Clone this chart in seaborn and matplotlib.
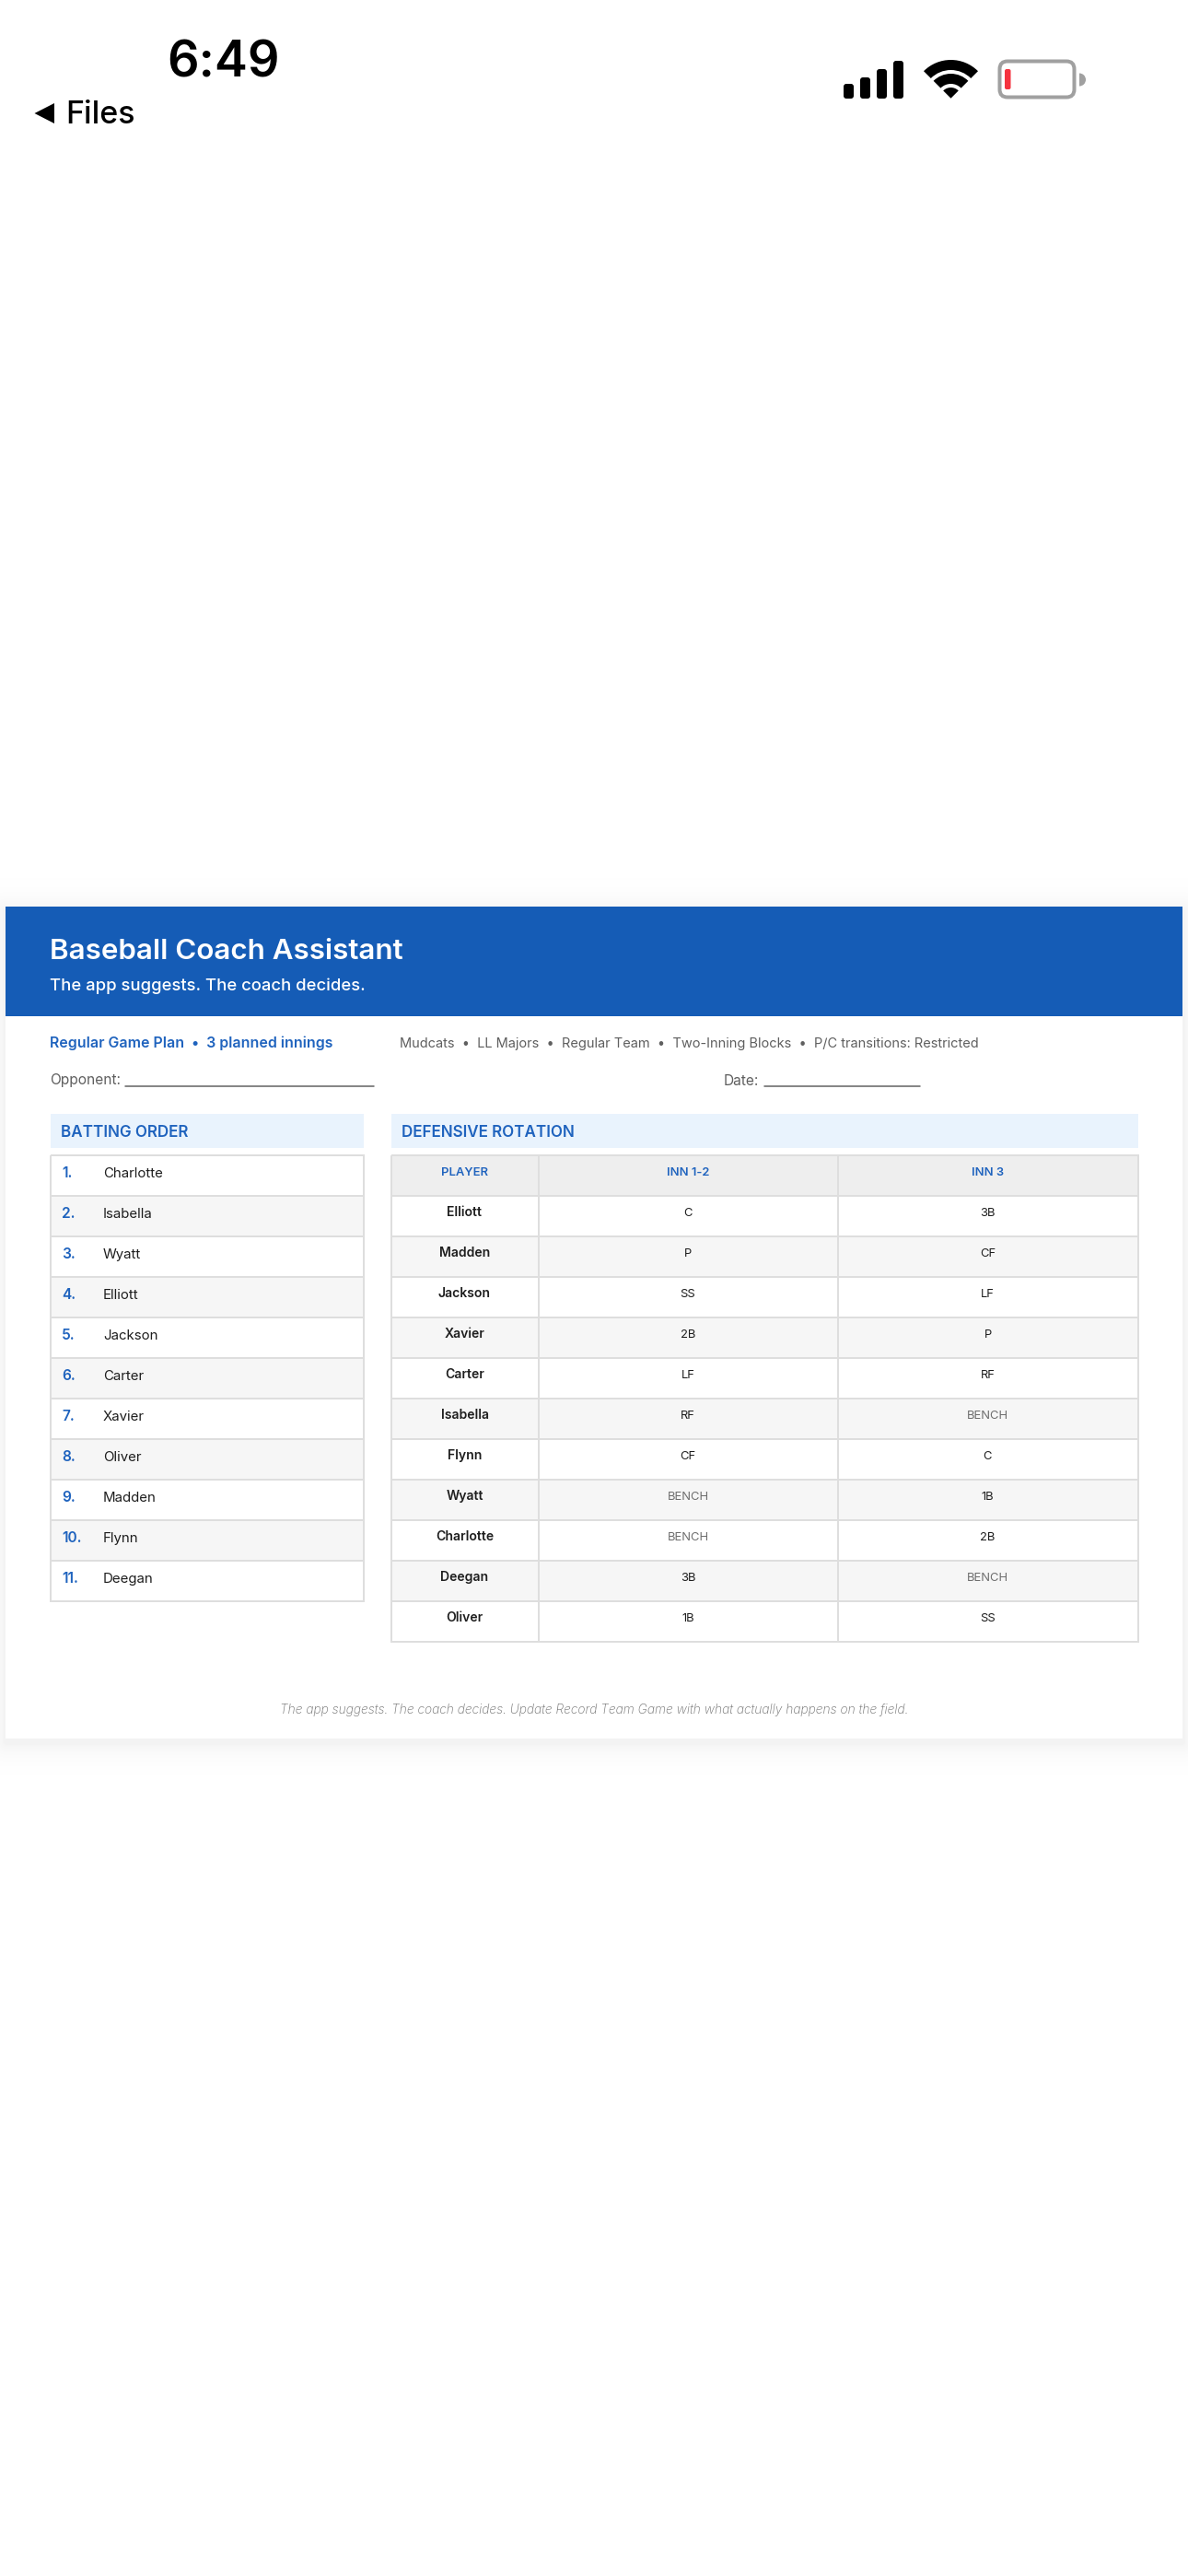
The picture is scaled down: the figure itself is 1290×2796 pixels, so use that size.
# plot.py
# printed lineup card as seen in a phone screenshot

import numpy as np
import pandas as pd
import seaborn as sns
import matplotlib
import matplotlib.pyplot as plt
from matplotlib.colors import ListedColormap
from matplotlib.patches import FancyBboxPatch, Polygon, Rectangle, Wedge
matplotlib.use('Agg')

DPI = 100
W, H = 1290, 2796

TITLE = "Baseball Coach Assistant"
SUBTITLE = "The app suggests. The coach decides."
PLAN_TEXT = "Regular Game Plan  \u2022  3 planned innings"
META_TEXT = "Mudcats  \u2022  LL Majors  \u2022  Regular Team  \u2022  Two-Inning Blocks  \u2022  P/C transitions: Restricted"
FOOTER = "The app suggests. The coach decides. Update Record Team Game with what actually happens on the field."

BATTING_ORDER = ["Charlotte", "Isabella", "Wyatt", "Elliott", "Jackson", "Carter",
                 "Xavier", "Oliver", "Madden", "Flynn", "Deegan"]

COLUMNS = ["PLAYER", "INN 1-2", "INN 3"]
PLAYERS = ["Elliott", "Madden", "Jackson", "Xavier", "Carter", "Isabella",
           "Flynn", "Wyatt", "Charlotte", "Deegan", "Oliver"]
INN_12 = ["C", "P", "SS", "2B", "LF", "RF", "CF", "BENCH", "BENCH", "3B", "1B"]
INN_3 = ["3B", "CF", "LF", "P", "RF", "BENCH", "C", "1B", "2B", "BENCH", "SS"]

BLUE = "#155CB6"
LINK = "#1F63BE"
BAND = "#E9F3FD"
LINE = "#DEDEDE"
INK = "#1E1E1E"
GREY = "#5F5F5F"
stripes = ListedColormap(["#FFFFFF", "#F6F6F6", "#EEEEEE"])

sns.set_theme(style="white")
plt.rcParams['font.family'] = ['Inter', 'DejaVu Sans']


def px(n):
    return n * 72 / DPI


fig = plt.figure(figsize=(W / DPI, H / DPI), dpi=DPI, facecolor="white")
root = fig.add_axes([0, 0, 1, 1])
root.set_xlim(0, W)
root.set_ylim(H, 0)
root.axis("off")


def label(x, y, s, size, color=INK, weight="normal", ha="left", ax=root, **kw):
    ax.text(x, y, s, fontsize=px(size), color=color, fontweight=weight, ha=ha,
            va="baseline", **kw)


def table_axes(left, top, right, bottom):
    return fig.add_axes([left / W, 1 - bottom / H, (right - left) / W, (bottom - top) / H])


def grid(ax, shades):
    sns.heatmap(pd.DataFrame(shades), ax=ax, cmap=stripes, vmin=-0.5, vmax=2.5, cbar=False,
                linewidths=px(1.5), linecolor=LINE, xticklabels=False, yticklabels=False)
    ax.collections[0].set_clip_on(False)
    ax.patch.set_alpha(0)


# ---- status bar
label(181, 84, "6:49", 54, color="black", weight="semibold")
root.add_patch(Polygon([(59, 112), (59, 134), (37.5, 123)], color="black", lw=0))
label(71, 134, "Files", 34, color="black", weight="medium")

for left, top in zip([916, 934, 952, 970], [91, 84, 75, 66]):
    root.add_patch(FancyBboxPatch((left + 3, top + 3), 5, 107 - top - 6,
                                  boxstyle="round,pad=3", color="black", lw=0))
for outer, thick in [(41.7, 11), (26.7, 11), (11.7, 11.7)]:
    root.add_patch(Wedge((1032.5, 106.7), outer, 225, 315, width=thick, color="black", lw=0))
root.add_patch(FancyBboxPatch((1094, 75), 64, 22, boxstyle="round,pad=8.5", fc="none",
                              ec="#A0A0A0", lw=px(4)))
root.add_patch(FancyBboxPatch((1093, 77), 2.5, 18, boxstyle="round,pad=2", color="#F5333F", lw=0))
root.add_patch(Wedge((1172, 86.5), 7, -90, 90, color="#A0A0A0", lw=0))

# ---- sheet with its soft shadow
yy, xx = np.mgrid[900:2000, 0:W]
dx = np.maximum(np.maximum(6 - xx, xx - 1284), 0)
dy = np.maximum(np.maximum(988 - yy, yy - 1891), 0)
fall = 1 - 0.05 * np.exp(-np.hypot(dx, dy) / 14)
root.imshow(fall, extent=(0, W, 2000, 900), cmap="gray", vmin=0, vmax=1, aspect="auto", zorder=0)
root.set_xlim(0, W)
root.set_ylim(H, 0)

root.add_patch(Rectangle((6, 984), 1278, 903, color="white", lw=0, zorder=1))
root.add_patch(Rectangle((6, 984), 1278, 119, color=BLUE, lw=0, zorder=1))
label(54, 1041, TITLE, 31.3, color="white", weight="semibold")
label(54.5, 1075, SUBTITLE, 18.5, color="white", weight="medium")

label(54.5, 1137.5, PLAN_TEXT, 15.9, color=LINK, weight="semibold")
label(433.5, 1136.5, META_TEXT, 14.6, color=GREY)

label(54.5, 1177.5, "Opponent:", 15.5, color=GREY)
root.plot([136, 406], [1179, 1179], color="#6A6A6A", lw=px(1.6))
label(786, 1177.5, "Date:", 15.5, color=GREY)
root.plot([830, 999], [1179, 1179], color="#6A6A6A", lw=px(1.6))

for left, right, name in [(55, 395, "BATTING ORDER"), (425, 1235.5, "DEFENSIVE ROTATION")]:
    root.add_patch(Rectangle((left, 1209), right - left, 36.5, color=BAND, lw=0, zorder=1))
    label(left + 11.5, 1234, name, 17, color=LINK, weight="semibold")

# ---- batting order table
ax = table_axes(55, 1254, 395, 1738)
grid(ax, [[i % 2] for i in range(len(BATTING_ORDER))])
for i, name in enumerate(BATTING_ORDER):
    ax.text(12 / 340, i + 0.54, f"{i + 1}.", fontsize=px(15.5), color=LINK, fontweight="semibold",
            va="baseline", transform=ax.get_yaxis_transform())
    ax.text(57 / 340, i + 0.54, name, fontsize=px(15), color=INK,
            va="baseline", transform=ax.get_yaxis_transform())

# ---- defensive rotation, one heatmap per column because widths differ
edges = [424.5, 584.5, 909.5, 1235.5]
for c, (header, values) in enumerate(zip(COLUMNS, [PLAYERS, INN_12, INN_3])):
    ax = table_axes(edges[c], 1254, edges[c + 1], 1782)
    grid(ax, [[2]] + [[i % 2] for i in range(len(values))])
    ax.text(0.5, 0.49, header, fontsize=px(13), color=LINK, fontweight="semibold", ha="center",
            va="baseline", transform=ax.get_yaxis_transform())
    for i, value in enumerate(values):
        bench = value == "BENCH"
        ax.text(0.5, i + 1.49, value, fontsize=px(14 if c == 0 else 13), ha="center", va="baseline",
                color="#6E6E6E" if bench else INK, fontweight="semibold" if c == 0 else "normal",
                transform=ax.get_yaxis_transform())

label(645, 1860, FOOTER, 13.8, color="#6E6E6E", weight="light", ha="center", style="italic")

fig.savefig("out.png", dpi=DPI)
plt.close(fig)
